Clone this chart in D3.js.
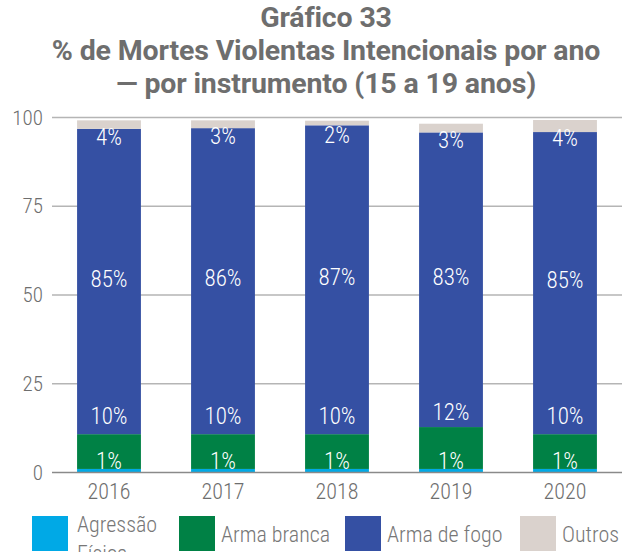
<!DOCTYPE html>
<html>
<head>
<meta charset="utf-8">
<script src="https://cdn.jsdelivr.net/npm/d3@7"></script>
<style>
  body { margin: 0; background: #fff; }
  svg { display: block; }
  .cond { font-family: "Roboto Condensed", "Liberation Sans Narrow", "DejaVu Sans Condensed", Roboto, sans-serif; }
  .tit { font-family: Roboto, "Liberation Sans", sans-serif; }
</style>
</head>
<body>
<svg id="chart"></svg>
<script>
const width = 634;
const height = 552;

const anos = ["2016", "2017", "2018", "2019", "2020"];
const series = ["Agressão Física", "Arma branca", "Arma de fogo", "Outros"];
const agressaoFisica = [1.0, 1.0, 1.0, 1.0, 1.0];
const armaBranca = [9.8, 9.8, 9.8, 11.8, 9.8];
const armaDeFogo = [86.0, 86.2, 87.0, 83.0, 85.1];
const outros = [2.4, 2.2, 1.3, 2.45, 3.4];
// rótulos impressos no gráfico
const rotAgressao = ["1%", "1%", "1%", "1%", "1%"];
const rotBranca = ["10%", "10%", "10%", "12%", "10%"];
const rotFogo = ["85%", "86%", "87%", "83%", "85%"];
const rotOutros = ["4%", "3%", "2%", "3%", "4%"];
const yTicks = [0, 25, 50, 75, 100];

const colors = ["#00a9e6", "#008145", "#3550a3", "#dad2cd"];
const valores = [agressaoFisica, armaBranca, armaDeFogo, outros];
const rotulos = [rotAgressao, rotBranca, rotFogo, rotOutros];
// deslocamento vertical do rótulo em relação ao centro do segmento
const labelDy = [-10, -36, -3, 12];

const data = anos.map((ano, i) => {
  const row = { ano };
  series.forEach((s, j) => { row[s] = valores[j][i]; });
  return row;
});

const svg = d3.select("#chart")
  .attr("width", width)
  .attr("height", height);

const x = d3.scaleBand()
  .domain(anos)
  .range([52, 622])
  .paddingInner(0.44)
  .paddingOuter(0.22);

const y = d3.scaleLinear()
  .domain([0, 100])
  .range([472.5, 117.5]);

// título
const title = svg.append("text")
  .attr("class", "tit")
  .attr("text-anchor", "middle")
  .attr("fill", "#6e6e6e")
  .attr("font-weight", "bold")
  .attr("font-size", 28.5)
  .attr("letter-spacing", -0.15);
["Gráfico 33", "% de Mortes Violentas Intencionais por ano", "— por instrumento (15 a 19 anos)"]
  .forEach((t, i) => {
    title.append("tspan")
      .attr("x", 326)
      .attr("y", 27 + i * 33)
      .text(t);
  });

// grade
svg.append("g")
  .selectAll("line")
  .data(yTicks.filter(d => d > 0))
  .enter().append("line")
  .attr("x1", 52)
  .attr("x2", 622)
  .attr("y1", d => y(d))
  .attr("y2", d => y(d))
  .attr("stroke", "#b5b5b5")
  .attr("stroke-width", 1.5);

const yAxis = svg.append("g")
  .attr("transform", "translate(52,0)")
  .call(d3.axisLeft(y).tickValues(yTicks).tickSize(0).tickPadding(9));
yAxis.select(".domain").remove();
yAxis.selectAll("text")
  .attr("class", "cond")
  .attr("fill", "#6e6e6e")
  .attr("font-weight", 300)
  .attr("font-size", 21);

// barras
const stack = d3.stack().keys(series)(data);

const groups = svg.append("g")
  .selectAll("g")
  .data(stack)
  .enter().append("g")
  .attr("fill", (d, i) => colors[i]);

groups.selectAll("rect")
  .data(d => d)
  .enter().append("rect")
  .attr("x", d => x(d.data.ano))
  .attr("width", x.bandwidth())
  .attr("y", d => y(d[1]))
  .attr("height", d => y(d[0]) - y(d[1]));

// rótulos
stack.forEach((s, j) => {
  svg.append("g")
    .selectAll("text")
    .data(s)
    .enter().append("text")
    .attr("class", "cond")
    .attr("x", d => x(d.data.ano) + x.bandwidth() / 2)
    .attr("y", d => (y(d[0]) + y(d[1])) / 2 + labelDy[j])
    .attr("dy", "0.35em")
    .attr("text-anchor", "middle")
    .attr("fill", "#fff")
    .attr("font-weight", 300)
    .attr("font-size", 23)
    .text((d, i) => rotulos[j][i]);
});

// eixo x
const xAxis = svg.append("g")
  .attr("transform", "translate(0,472.5)")
  .call(d3.axisBottom(x).tickSize(0).tickPadding(11));
xAxis.select(".domain")
  .attr("d", "M52,0H622")
  .attr("stroke", "#8a8a8a")
  .attr("stroke-width", 1.5);
xAxis.selectAll("text")
  .attr("class", "cond")
  .attr("fill", "#6e6e6e")
  .attr("font-weight", 300)
  .attr("font-size", 22);

// legenda
const legendX = [32, 179, 345, 520];
const legend = svg.append("g")
  .selectAll("g")
  .data(series)
  .enter().append("g")
  .attr("transform", (d, i) => `translate(${legendX[i]},516)`);

legend.append("rect")
  .attr("width", 36)
  .attr("height", 35)
  .attr("fill", (d, i) => colors[i]);

legend.append("text")
  .attr("class", "cond")
  .attr("fill", "#777")
  .attr("font-weight", 300)
  .attr("font-size", 22)
  .each(function (d, i) {
    const t = d3.select(this);
    if (i === 0) {
      t.append("tspan").attr("x", 45).attr("y", 16).text("Agressão");
      t.append("tspan").attr("x", 45).attr("y", 45).text("Física");
    } else {
      t.append("tspan").attr("x", 42).attr("y", 26).text(d);
    }
  });
</script>
</body>
</html>
